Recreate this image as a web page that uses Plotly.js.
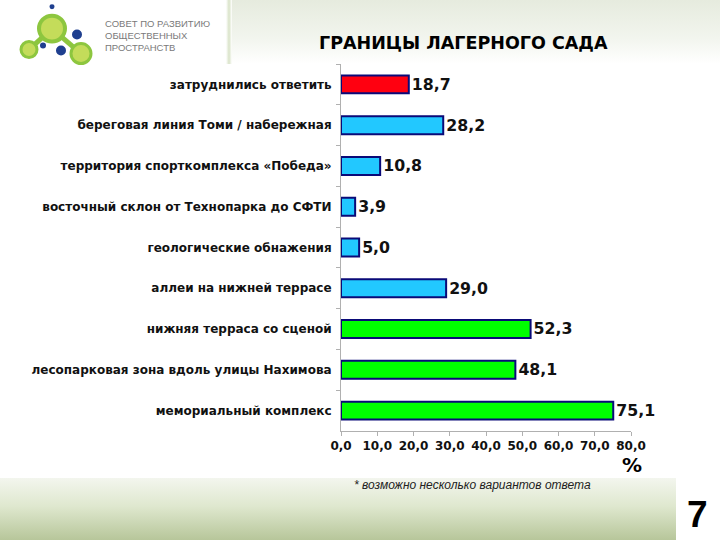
<!DOCTYPE html>
<html><head><meta charset="utf-8">
<script src="https://cdn.plot.ly/plotly-3.0.1.min.js"></script>
<style>
html,body{margin:0;padding:0;width:720px;height:540px;overflow:hidden;background:#fff;}
#bgtop{position:absolute;left:230px;top:0;width:490px;height:64px;background:linear-gradient(to bottom,#e6ebde,#f2f5ee 60%,#ffffff);}
#bgtopedge{position:absolute;left:226px;top:0;width:6px;height:64px;background:linear-gradient(to right,#ffffff,#d9e3c8,#ffffff);}
#bgbot{position:absolute;left:0;top:478px;width:676px;height:62px;background:linear-gradient(to bottom,#f3f6ee,#dfe8cf 45%,#b7c69a);}
#chart{position:absolute;left:0;top:0;width:720px;height:540px;}
</style>
</head><body>
<div id="bgtop"></div><div id="bgtopedge"></div><div id="bgbot"></div>
<div id="chart"></div>
<script>
const categories = [
  "затруднились ответить",
  "береговая линия Томи / набережная",
  "территория спорткомплекса «Победа»",
  "восточный склон от Технопарка до СФТИ",
  "геологические обнажения",
  "аллеи на нижней террасе",
  "нижняя терраса со сценой",
  "лесопарковая зона вдоль улицы Нахимова",
  "мемориальный комплекс"
];
const values = [18.7, 28.2, 10.8, 3.9, 5.0, 29.0, 52.3, 48.1, 75.1];
const barColors = ["#ff0010","#22c8ff","#22c8ff","#22c8ff","#22c8ff","#22c8ff","#00ff00","#00ff00","#00ff00"];
const xTicks = [0,10,20,30,40,50,60,70,80];

const F = '"Liberation Sans", Arial, sans-serif';
const D = '"DejaVu Sans", Verdana, sans-serif';

const trace = {
  type: 'bar', orientation: 'h',
  x: values, y: categories,
  width: 0.44,
  marker: {color: barColors, line: {color: '#0a0a78', width: 2}},
  texttemplate: '%{x:.1f}',
  textposition: 'outside',
  textfont: {family: D, size: 22, color: '#111', weight: 'bold'},
  cliponaxis: false,
  hoverinfo: 'none'
};

function px(x){return (x-341)/290;}
function py(y){return (431.5-y)/368;}
function circ(cx,cy,r,fill,lineColor,lw){
  return {type:'circle', xref:'paper', yref:'paper', x0:px(cx-r), x1:px(cx+r), y0:py(cy+r), y1:py(cy-r), fillcolor:fill, line:{color:lineColor||fill, width:lw||0}, layer:'above'};
}
function seg(x0,y0,x1,y1,c,w){
  return {type:'line', xref:'paper', yref:'paper', x0:px(x0), x1:px(x1), y0:py(y0), y1:py(y1), line:{color:c,width:w}, layer:'above'};
}
const shapes = [
  seg(29,49,52,28,'#8dc63f',5),
  seg(52,28,81,53,'#8dc63f',5),
  circ(52,28,13,'#c4dc5a','#8dc63f',4),
  circ(29,49,8,'#c4dc5a','#8dc63f',3),
  circ(81,53,10,'#c4dc5a','#8dc63f',3),
  circ(52,6,2.5,'#1f3f8f'),
  circ(77,34,5,'#1f3f8f'),
  circ(61,50,5,'#1f3f8f'),
  circ(43,45,3,'#1f3f8f')
];

function ann(text,x,y,size,opts){
  return Object.assign({xref:'paper', yref:'paper', x:px(x), y:py(y), text:text, showarrow:false,
    font:{family:F, size:size, color:'#000'}, xanchor:'center', yanchor:'middle'}, opts||{});
}
const grayF = {family:F, size:9.5, color:'#7a7a7a'};
const annotations = [
  ann('СОВЕТ ПО РАЗВИТИЮ',103,23,9.5,{xanchor:'left', font:grayF}),
  ann('ОБЩЕСТВЕННЫХ',103,35,9.5,{xanchor:'left', font:grayF}),
  ann('ПРОСТРАНСТВ',103,47,9.5,{xanchor:'left', font:grayF}),
  ann('<b>ГРАНИЦЫ ЛАГЕРНОГО САДА</b>',463,42,17,{font:{family:D,size:17.5,color:'#000'}}),
  ann('<b>%</b>',632,466,21,{font:{family:D,size:20,color:'#000'}}),
  ann('<i>* возможно несколько вариантов ответа</i>',352,486,12,{xanchor:'left', font:{family:F,size:12,color:'#222'}}),
  ann('<b>7</b>',697,515,36,{font:{family:F,size:37,color:'#000'}})
];

const layout = {
  width: 720, height: 540,
  margin: {l: 341, r: 89, t: 63.5, b: 108.5, pad: 0},
  paper_bgcolor: 'rgba(0,0,0,0)',
  plot_bgcolor: 'rgba(0,0,0,0)',
  separators: ', ',
  showlegend: false,
  xaxis: {
    range: [0, 80], tickvals: xTicks, tickformat: '.1f',
    showgrid: false, zeroline: false,
    showline: true, linecolor: '#b0b0b0', linewidth: 1,
    ticks: 'outside', ticklen: 4, tickcolor: '#b0b0b0',
    tickfont: {family: D, size: 12, color: '#111', weight: 'bold'},
    fixedrange: true
  },
  yaxis: {
    type: 'category', autorange: 'reversed',
    showgrid: false, zeroline: false,
    showline: true, linecolor: '#b0b0b0', linewidth: 1,
    ticks: 'outside', ticklen: 4, tickcolor: '#b0b0b0', tickson: 'boundaries',
    ticklabelstandoff: 6,
    tickfont: {family: D, size: 12, color: '#111', weight: 'bold'},
    fixedrange: true
  },
  bargap: 0.56,
  shapes: shapes,
  annotations: annotations
};

Plotly.newPlot('chart', [trace], layout, {displayModeBar: false, staticPlot: true});
</script>
</body></html>
